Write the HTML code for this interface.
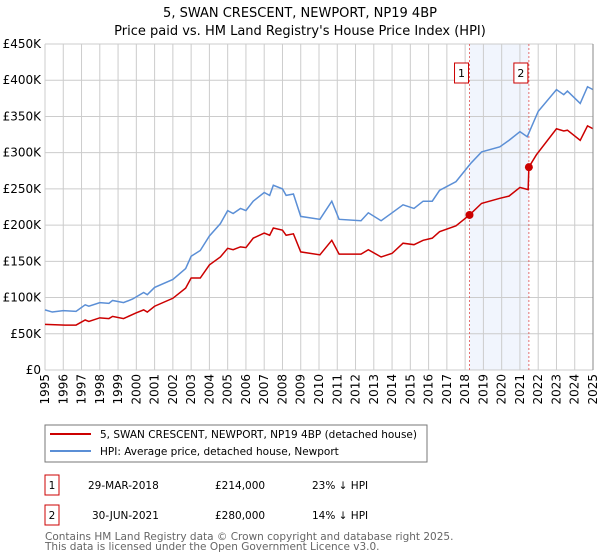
<!DOCTYPE html>
<html><head><meta charset="utf-8"><style>
body{margin:0;background:#fff;}
svg{display:block;font-family:"DejaVu Sans","Liberation Sans",sans-serif;}
</style></head><body>
<svg id="chart" width="600" height="560" viewBox="0 0 600 560">
<text x="300" y="17" text-anchor="middle" font-size="13">5, SWAN CRESCENT, NEWPORT, NP19 4BP</text>
<text x="300" y="35" text-anchor="middle" font-size="13">Price paid vs. HM Land Registry's House Price Index (HPI)</text>
<g id="grid"></g><g id="marks"></g><g id="axes"></g>
<rect x="45" y="425" width="382" height="37" fill="#fff" stroke="#777"/>
<line x1="50" y1="434" x2="91" y2="434" stroke="#cc0000" stroke-width="2"/>
<text x="100" y="438" font-size="10.5">5, SWAN CRESCENT, NEWPORT, NP19 4BP (detached house)</text>
<line x1="50" y1="451" x2="91" y2="451" stroke="#5b8fd6" stroke-width="2"/>
<text x="100" y="455" font-size="10.5">HPI: Average price, detached house, Newport</text>
<g font-size="10.5">
<rect x="45" y="475" width="14" height="20" fill="#fff" stroke="#cc0000"/>
<text x="52" y="489" text-anchor="middle">1</text>
<text x="88" y="489">29-MAR-2018</text>
<text x="215" y="489">£214,000</text>
<text x="312" y="489">23% ↓ HPI</text>
<rect x="45" y="505" width="14" height="20" fill="#fff" stroke="#cc0000"/>
<text x="52" y="519" text-anchor="middle">2</text>
<text x="92" y="519">30-JUN-2021</text>
<text x="215" y="519">£280,000</text>
<text x="312" y="519">14% ↓ HPI</text>
</g>
<text x="45" y="540" font-size="10.5" fill="#666">Contains HM Land Registry data © Crown copyright and database right 2025.</text>
<text x="45" y="550" font-size="10.5" fill="#666">This data is licensed under the Open Government Licence v3.0.</text>
</svg>
<script>
const hpiYears=[1995.0,1995.4,1996.0,1996.7,1997.2,1997.4,1998.0,1998.5,1998.7,1999.3,1999.8,2000.4,2000.6,2001.0,2002.0,2002.7,2003.0,2003.5,2004.0,2004.6,2005.0,2005.3,2005.7,2006.0,2006.4,2007.0,2007.3,2007.5,2008.0,2008.2,2008.6,2009.0,2010.05,2010.7,2011.1,2012.3,2012.7,2013.4,2014.0,2014.6,2015.2,2015.7,2016.2,2016.6,2017.5,2018.3,2018.9,2019.9,2020.4,2021.0,2021.4,2022.0,2023.0,2023.4,2023.6,2024.3,2024.7,2025.0];
const hpiValues=[83,80,82,81,90,88,93,92,96,93,98,107,104,114,125,140,157,165,185,202,220,216,223,220,233,245,241,255,250,241,243,212,208,233,208,206,217,206,217,228,223,233,233,248,260,285,301,308,317,329,322,357,387,380,385,368,391,387];
const priceYears=[1995.0,1996.1,1996.7,1997.2,1997.4,1998.0,1998.5,1998.7,1999.3,2000.0,2000.4,2000.6,2001.0,2002.0,2002.7,2003.0,2003.5,2004.0,2004.6,2005.0,2005.3,2005.7,2006.0,2006.4,2007.0,2007.3,2007.5,2008.0,2008.2,2008.6,2009.0,2010.05,2010.7,2011.1,2012.3,2012.7,2013.4,2014.0,2014.6,2015.2,2015.7,2016.2,2016.6,2017.5,2018.24,2018.9,2019.9,2020.4,2021.0,2021.45,2021.49,2021.9,2023.0,2023.4,2023.6,2024.3,2024.7,2025.0];
const priceValues=[63,62,62,69,67,72,71,74,71,79,83,80,88,99,113,127,127,145,156,168,166,170,169,182,189,186,196,193,186,188,163,159,179,160,160,166,156,161,175,173,179,182,191,199,214,230,237,240,252,249,280,297,333,330,331,317,337,333];
const saleYears=[2018.24,2021.49];
const saleValues=[214,280];
const saleLabels=["1","2"];
const yTicks=[0,50,100,150,200,250,300,350,400,450];
const yTickLabels=["£0","£50K","£100K","£150K","£200K","£250K","£300K","£350K","£400K","£450K"];
const xTicks=[1995,1996,1997,1998,1999,2000,2001,2002,2003,2004,2005,2006,2007,2008,2009,2010,2011,2012,2013,2014,2015,2016,2017,2018,2019,2020,2021,2022,2023,2024,2025];

const X0=45,X1=593,Y0=370,Y1=44;
const xs=y=>X0+(y-1995)/30*(X1-X0);
const ys=v=>Y0-v/450*(Y0-Y1);
const NS="http://www.w3.org/2000/svg";
function mk(tag,attrs,parent){const e=document.createElementNS(NS,tag);for(const k in attrs)e.setAttribute(k,attrs[k]);parent.appendChild(e);return e;}
const grid=document.getElementById('grid'),marks=document.getElementById('marks'),axes=document.getElementById('axes');
mk('rect',{x:X0,y:Y1,width:X1-X0,height:Y0-Y1,fill:'#fff'},grid);
// shaded region
const sh=mk('rect',{x:xs(saleYears[0]),y:Y1,width:xs(saleYears[1])-xs(saleYears[0]),height:Y0-Y1,fill:'#eef3fd',opacity:0.8},grid);


yTicks.forEach((t,i)=>{
  const l=mk('line',{x1:X0,x2:X1,y1:ys(t),y2:ys(t),stroke:'#ccc'},grid);
  
  
  const tx=mk('text',{x:X0-4,y:ys(t)+4,'text-anchor':'end','font-size':12},axes);
  tx.textContent=yTickLabels[i];
  
  
});
xTicks.forEach(t=>{
  const l=mk('line',{x1:xs(t),x2:xs(t),y1:Y1,y2:Y0,stroke:'#ccc'},grid);
  
  
  const tx=mk('text',{x:0,y:0,'text-anchor':'end','font-size':12,transform:`translate(${xs(t)+4},374) rotate(-90)`},axes);
  tx.textContent=t;
  
  
});
saleYears.forEach((y,i)=>{
  const l=mk('line',{x1:xs(y),x2:xs(y),y1:Y1,y2:Y0,stroke:'#e05050','stroke-dasharray':'2,2','stroke-width':0.8},grid);
  
  
  const b=mk('rect',{x:xs(y)-15,y:63,width:14,height:20,fill:'#fff',stroke:'#cc0000'},grid);
  
  
  const t=mk('text',{x:xs(y)-8,y:77,'text-anchor':'middle','font-size':11},grid);
  t.textContent=saleLabels[i];
  
  
});
const hp=mk('polyline',{points:hpiYears.map((y,i)=>xs(y)+','+ys(hpiValues[i])).join(' '),fill:'none',stroke:'#5b8fd6','stroke-width':1.5},marks);


const pp=mk('polyline',{points:priceYears.map((y,i)=>xs(y)+','+ys(priceValues[i])).join(' '),fill:'none',stroke:'#cc0000','stroke-width':1.5},marks);


saleYears.forEach((y,i)=>{
  const c=mk('circle',{cx:xs(y),cy:ys(saleValues[i]),r:4,fill:'#cc0000'},marks);
  
  
});
const ax=mk('line',{x1:X1,x2:X1,y1:Y1,y2:Y0,stroke:'#888'},axes);


</script>
</body></html>
